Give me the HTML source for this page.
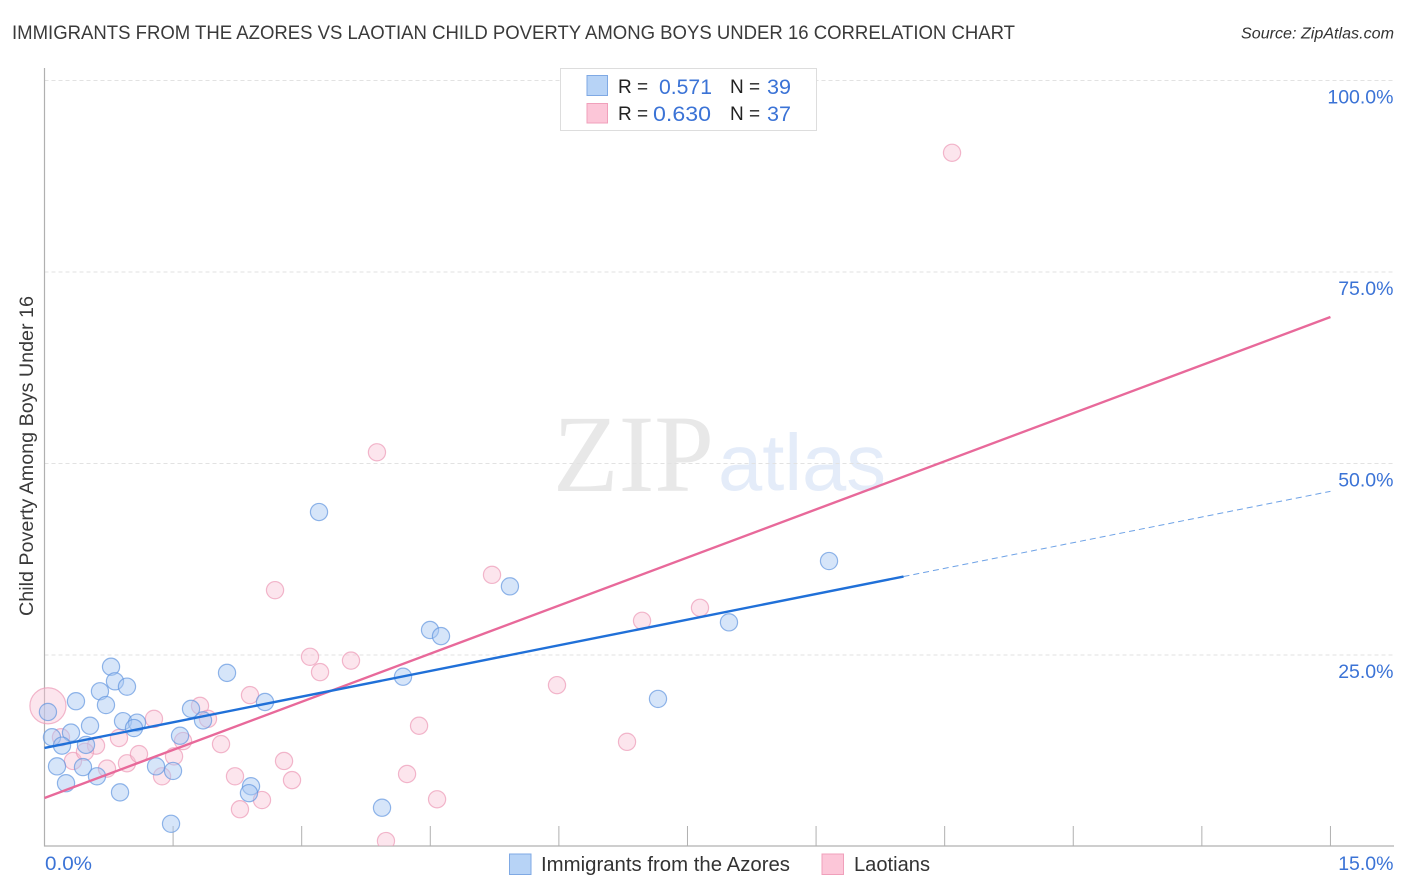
<!DOCTYPE html>
<html lang="en">
<head>
<meta charset="utf-8">
<title>Immigrants from the Azores vs Laotian Child Poverty Among Boys Under 16 Correlation Chart</title>
<style>
html,body{margin:0;padding:0;background:#fff;}
svg{display:block;font-family:"Liberation Sans",sans-serif;}
</style>
</head>
<body>
<svg id="chart" width="1406" height="892" viewBox="0 0 1406 892" xmlns="http://www.w3.org/2000/svg">
  <defs><clipPath id="plot-clip"><rect x="0" y="60" width="1406" height="786"/></clipPath></defs>
  <text x="12" y="39" font-size="19" fill="#3a3a3a" textLength="1003" lengthAdjust="spacingAndGlyphs">IMMIGRANTS FROM THE AZORES VS LAOTIAN CHILD POVERTY AMONG BOYS UNDER 16 CORRELATION CHART</text>
  <text x="1241" y="38.5" font-size="15.5" font-style="italic" fill="#333" textLength="153" lengthAdjust="spacingAndGlyphs">Source: ZipAtlas.com</text>

  <g>
    <text x="553" y="491" font-family="'Liberation Serif',serif" font-size="110" fill="#e8e8e8" textLength="161" lengthAdjust="spacingAndGlyphs">ZIP</text>
    <text x="718" y="490" font-size="80" fill="#e4ecf9" textLength="168" lengthAdjust="spacingAndGlyphs">atlas</text>
  </g>

  <g id="grid"></g>
  <g id="axes"></g>
  <g id="points" clip-path="url(#plot-clip)"></g>
  <g id="lines"></g>
  <g id="labels"></g>

  <text transform="translate(33,616) rotate(-90)" font-size="19" fill="#3a3a3a" textLength="320" lengthAdjust="spacingAndGlyphs">Child Poverty Among Boys Under 16</text>

  <g>
    <rect x="560.5" y="68.5" width="256" height="62" fill="#fff" stroke="#ddd"/>
    <rect x="587" y="75.5" width="20.5" height="20" fill="#b7d3f6" stroke="#7fa9e4"/>
    <rect x="587" y="103.5" width="20.5" height="19.5" fill="#fcc6d8" stroke="#f0a0bb"/>
    <text x="618" y="93" font-size="19" fill="#222">R =</text>
    <text x="659" y="94" font-size="21.5" fill="#3b73d6" textLength="53" lengthAdjust="spacingAndGlyphs">0.571</text>
    <text x="730" y="93" font-size="19" fill="#222">N =</text>
    <text x="767" y="94" font-size="21.5" fill="#3b73d6" textLength="24" lengthAdjust="spacingAndGlyphs">39</text>
    <text x="618" y="120" font-size="19" fill="#222">R =</text>
    <text x="653" y="121" font-size="21.5" fill="#3b73d6" textLength="58" lengthAdjust="spacingAndGlyphs">0.630</text>
    <text x="730" y="120" font-size="19" fill="#222">N =</text>
    <text x="767" y="121" font-size="21.5" fill="#3b73d6" textLength="24" lengthAdjust="spacingAndGlyphs">37</text>
  </g>

  <g>
    <rect x="509.5" y="854" width="21.5" height="20.5" fill="#b7d3f6" stroke="#7fa9e4"/>
    <text x="541" y="871" font-size="20" fill="#333" textLength="249" lengthAdjust="spacingAndGlyphs">Immigrants from the Azores</text>
    <rect x="822" y="854" width="21.5" height="20.5" fill="#fcc6d8" stroke="#f0a0bb"/>
    <text x="854" y="871" font-size="20" fill="#333" textLength="76" lengthAdjust="spacingAndGlyphs">Laotians</text>
  </g>
</svg>
<script>
const xTickValues = [1.5, 3, 4.5, 6, 7.5, 9, 10.5, 12, 13.5, 15];
const yGridValues = [25, 50, 75, 100];
const yTickLabels = ["25.0%", "50.0%", "75.0%", "100.0%"];
const xEndLabels = ["0.0%", "15.0%"];

const azoresX = [0.776,0.822,0.962,0.647,0.367,0.717,0.04,0.916,1.079,1.044,0.531,0.309,0.087,0.204,0.484,0.146,0.449,0.612,0.251,0.881,1.301,1.499,1.581,1.709,1.849,2.129,2.572,2.409,2.385,1.476,3.202,3.937,4.182,4.497,4.625,5.429,7.984,7.156,9.151];
const azoresY = [23.4,21.5,20.8,20.2,18.9,18.4,17.5,16.3,16.1,15.4,15.7,14.8,14.2,13.1,13.2,10.4,10.3,9.1,8.2,7.0,10.4,9.8,14.4,17.9,16.4,22.6,18.8,7.8,6.9,2.9,43.6,5.0,22.1,28.2,27.4,33.9,29.2,19.2,37.2];
const laotianX = [0.04,0.192,0.601,0.332,0.472,0.729,0.962,0.869,1.102,1.277,1.511,1.371,1.616,1.814,1.907,2.059,2.397,2.222,2.537,2.28,3.097,3.214,3.575,5.978,4.369,4.229,4.579,3.983,2.794,2.887,2.689,3.878,5.22,6.97,7.646,6.795,10.586];
const laotianY = [18.3,14.2,13.1,11.1,12.3,10.1,10.8,14.1,12.0,16.6,11.7,9.1,13.7,18.3,16.6,13.3,19.7,9.1,6.0,4.8,24.7,22.7,24.2,21.0,15.7,9.4,6.1,0.65,11.1,8.6,33.4,51.4,35.4,29.4,31.1,13.6,90.5];
const laotianWeight = [4.4,1,1,1,1,1,1,1,1,1,1,1,1,1,1,1,1,1,1,1,1,1,1,1,1,1,1,1,1,1,1,1,1,1,1,1,1];

const azoresTrend = [12.8, 46.3];
const azoresSolidEnd = 10.02;
const laotianTrend = [6.27, 69.06];

const SVG_NS = "http://www.w3.org/2000/svg";
const xScale = v => 44.5 + v * 85.73;
const yScale = v => 846 - v * 7.66;
const trendAt = (t, x) => t[0] + (t[1] - t[0]) * x / 15;
const make = (parent, tag, attrs, text) => {
  const el = document.createElementNS(SVG_NS, tag);
  Object.keys(attrs).forEach(k => el.setAttribute(k, attrs[k]));
  if (text !== undefined) el.textContent = text;
  document.getElementById(parent).appendChild(el);
  return el;
};

yGridValues.forEach((v, i) => {
  const grid = make("grid", "line", {x1: 44.5, x2: 1394, y1: yScale(v) + 0.5, y2: yScale(v) + 0.5, stroke: "#e2e2e2", "stroke-width": 1, "stroke-dasharray": "4 3"});
  
  
  const label = make("labels", "text", {x: 1393.5, y: yScale(v) + 23.5, "font-size": 19.5, fill: "#3b73d6", "text-anchor": "end"}, yTickLabels[i]);
  
  
});

const yAxisLine = make("axes", "line", {x1: 44.5, x2: 44.5, y1: 68, y2: 846.5, stroke: "#b0b0b0", "stroke-width": 1.2});


const xAxisLine = make("axes", "line", {x1: 44, x2: 1394, y1: 846, y2: 846, stroke: "#b0b0b0", "stroke-width": 1.2});


xTickValues.forEach(v => {
  const tick = make("axes", "line", {x1: xScale(v), x2: xScale(v), y1: 826, y2: 846, stroke: "#b0b0b0", "stroke-width": 1});
  
  
});

const xLabelLeft = make("labels", "text", {x: 45, y: 870, "font-size": 19.5, fill: "#3b73d6", textLength: 47, lengthAdjust: "spacingAndGlyphs"}, xEndLabels[0]);


const xLabelRight = make("labels", "text", {x: 1393.5, y: 870, "font-size": 19.5, fill: "#3b73d6", "text-anchor": "end"}, xEndLabels[1]);



laotianX.forEach((x, i) => {
  const dot = make("points", "circle", {cx: xScale(x), cy: yScale(laotianY[i]), r: 8.6 * Math.sqrt(laotianWeight[i]), fill: "#f9c0d3", "fill-opacity": 0.42, stroke: "#ec9ab6", "stroke-opacity": 0.7, "stroke-width": 1.2});
  
  
});
azoresX.forEach((x, i) => {
  const dot = make("points", "circle", {cx: xScale(x), cy: yScale(azoresY[i]), r: 8.6, fill: "#a9c9f3", "fill-opacity": 0.48, stroke: "#5f93de", "stroke-opacity": 0.68, "stroke-width": 1.2});
  
  
});

const laotianLine = make("lines", "line", {x1: xScale(0), y1: yScale(trendAt(laotianTrend, 0)), x2: xScale(15), y2: yScale(trendAt(laotianTrend, 15)), stroke: "#e8699a", "stroke-width": 2.4});


const azoresLine = make("lines", "line", {x1: xScale(0), y1: yScale(trendAt(azoresTrend, 0)), x2: xScale(azoresSolidEnd), y2: yScale(trendAt(azoresTrend, azoresSolidEnd)), stroke: "#2070d8", "stroke-width": 2.4});


const azoresDash = make("lines", "line", {x1: xScale(azoresSolidEnd), y1: yScale(trendAt(azoresTrend, azoresSolidEnd)), x2: xScale(15), y2: yScale(trendAt(azoresTrend, 15)), stroke: "#2070d8", "stroke-width": 1, "stroke-dasharray": "6 4", "stroke-opacity": 0.65});


</script>
</body>
</html>
